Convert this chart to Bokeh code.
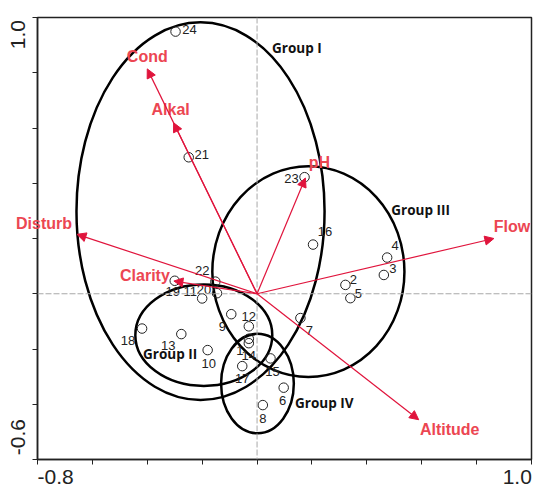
import math
from bokeh.plotting import figure
from bokeh.models import (ColumnDataSource, Range1d, Span, Label, Arrow, NormalHead,
                          FixedTicker, LinearAxis)
from bokeh.core.properties import value
from bokeh.embed import file_html
from bokeh.resources import INLINE

# ---- site scores ----
site_ids = [str(i) for i in range(1, 25)]
site_x = [-0.030, 0.322, 0.462, 0.474, 0.340, 0.097, 0.158, 0.021, -0.094, -0.180,
          -0.200, -0.030, -0.276, -0.030, 0.049, 0.204, -0.054, -0.419, -0.300, -0.146,
          -0.249, -0.152, 0.173, -0.297]
site_y = [-0.163, 0.032, 0.068, 0.131, -0.016, -0.340, -0.088, -0.403, -0.074, -0.204,
          -0.017, -0.118, -0.146, -0.179, -0.234, 0.178, -0.262, -0.126, 0.047, 0.002,
          0.494, 0.044, 0.422, 0.949]

# ---- environmental variable vectors ----
var_names = ["Cond", "Alkal", "Disturb", "pH", "Flow", "Altitude", "Clarity"]
var_x = [-0.400, -0.304, -0.656, 0.176, 0.863, 0.589, -0.303]
var_y = [0.814, 0.619, 0.215, 0.419, 0.200, -0.456, 0.046]

# ---- groups (ellipses) ----
group_names = ["Group I", "Group II", "Group III", "Group IV"]
group_cx = [-0.206, -0.194, 0.187, 0.0015]
group_cy = [0.299, -0.150, 0.080, -0.325]
group_w = [0.904, 0.499, 0.700, 0.265]
group_h = [1.367, 0.367, 0.763, 0.360]
group_label_x = [0.145, -0.317, 0.596, 0.245]
group_label_y = [0.891, -0.217, 0.302, -0.394]

# ---- axes ----
x_ticks = [-0.8, -0.6, -0.4, -0.2, 0.0, 0.2, 0.4, 0.6, 0.8, 1.0]
y_ticks = [-0.6, -0.4, -0.2, 0.0, 0.2, 0.4, 0.6, 0.8, 1.0]
x_end_labels = ["-0.8", "1.0"]
y_end_labels = ["-0.6", "1.0"]
# end labels sit inside the axis extent (left/right aligned in the original)
x_label_pos = [-0.734, 0.948]
y_label_pos = [-0.519, 0.938]

# ---- label offsets (pixels, screen; y down positive) ----
site_dx = [-9, 8, 9, 8, 8, -1, 9, 0, -9, 1, -12, 0, -13, 0, 2, 12, 0, -14, -2, -13, 13, -13, -13, 14]
site_dy = [12, -5, -6, -12, -5, 13, 12, 13, 12, 13, -7, -10, 11, 12, 13, -13, 12, 12, 11, -4, -3, -11, 1, -2]
var_dx = [0, -3, -33, 14, 18, 31, -29]
var_dy = [-12, -13, -11, -16, -12, 10, -6]

RED_LINE = "#E0143C"
RED_TEXT = "#EC4652"
DARK = "#222222"

p = figure(width=533, height=486, x_range=Range1d(x_ticks[0], x_ticks[-1]),
           y_range=Range1d(y_ticks[0], y_ticks[-1]), output_backend="svg",
           toolbar_location=None, x_axis_type=None, y_axis_type=None)
p.min_border_left = 37
p.min_border_right = 2
p.min_border_top = 14
p.min_border_bottom = 27
p.outline_line_color = DARK
p.outline_line_width = 1.5
p.background_fill_color = "white"
p.border_fill_color = "white"

for loc, ticks, lpos, ltxt, standoff in (("below", x_ticks, x_label_pos, x_end_labels, 5),
                                         ("left", y_ticks, y_label_pos, y_end_labels, 7)):
    ax = LinearAxis(ticker=FixedTicker(ticks=lpos, minor_ticks=ticks))
    ax.major_label_overrides = {lpos[0]: ltxt[0], lpos[1]: ltxt[1]}
    ax.major_label_text_font = "Liberation Sans"
    ax.major_label_text_font_size = "21px"
    ax.major_label_text_color = DARK
    ax.major_label_standoff = standoff
    ax.major_tick_out = 0
    ax.major_tick_in = 0
    ax.major_tick_line_color = None
    ax.minor_tick_out = 5
    ax.minor_tick_in = 0
    ax.minor_tick_line_color = DARK
    ax.minor_tick_line_width = 1
    ax.axis_line_color = DARK
    ax.axis_line_width = 1.5
    if loc == "left":
        ax.major_label_orientation = "parallel"
    p.add_layout(ax, loc)

# zero lines
p.add_layout(Span(location=0, dimension="height", line_color="#a8a8a8",
                  line_width=1, line_dash="6 2"))
p.add_layout(Span(location=0, dimension="width", line_color="#a8a8a8",
                  line_width=1, line_dash="6 2"))

# group ellipses
gsrc = ColumnDataSource(dict(x=group_cx, y=group_cy, w=group_w, h=group_h,
                             lx=group_label_x, ly=group_label_y, name=group_names))
p.ellipse(x="x", y="y", width="w", height="h", source=gsrc, fill_color=None,
          line_color="black", line_width=2.5)
p.text(x="lx", y="ly", text="name", source=gsrc, text_font=value("Open Sans"),
       text_font_style="bold", text_font_size="13.5px", text_color="#111111",
       text_align="center", text_baseline="middle")

# sites
ssrc = ColumnDataSource(dict(x=site_x, y=site_y, id=site_ids, dx=site_dx, dy=site_dy))
p.scatter(x="x", y="y", source=ssrc, marker="circle", size=9.5, fill_color=None,
          line_color=DARK, line_width=1)
p.text(x="x", y="y", text="id", source=ssrc, x_offset="dx", y_offset="dy",
       text_font=value("Liberation Sans"), text_font_size="13px", text_color=DARK,
       text_align="center", text_baseline="middle")

# variable arrows
vsrc = ColumnDataSource(dict(x=var_x, y=var_y, name=var_names, dx=var_dx, dy=var_dy,
                             x0=[0] * len(var_x), y0=[0] * len(var_y)))
p.add_layout(Arrow(end=NormalHead(size=9, fill_color=RED_LINE, line_color=RED_LINE,
                                  line_width=1),
                   x_start="x0", y_start="y0", x_end="x", y_end="y", source=vsrc,
                   line_color=RED_LINE, line_width=1.2))

var_font = dict(text_font="Liberation Sans", text_font_style="bold",
                text_font_size="16px", text_color=RED_TEXT,
                text_align="center", text_baseline="middle")
inside = [i for i, n in enumerate(var_names) if n != "Disturb"]
vin = ColumnDataSource(dict(x=[var_x[i] for i in inside], y=[var_y[i] for i in inside],
                            name=[var_names[i] for i in inside],
                            dx=[var_dx[i] for i in inside], dy=[var_dy[i] for i in inside]))
p.text(x="x", y="y", text="name", source=vin, x_offset="dx", y_offset="dy",
       text_font=value("Liberation Sans"), text_font_style="bold", text_font_size="16px",
       text_color=RED_TEXT, text_align="center", text_baseline="middle")
# "Disturb" crosses the left frame edge: an unclipped label in a side panel
k = var_names.index("Disturb")
p.add_layout(Label(x=var_x[k], y=var_y[k], text=var_names[k], x_offset=var_dx[k],
                   y_offset=-var_dy[k], **var_font), "above")

open("out.html", "w").write(file_html(p, INLINE))
